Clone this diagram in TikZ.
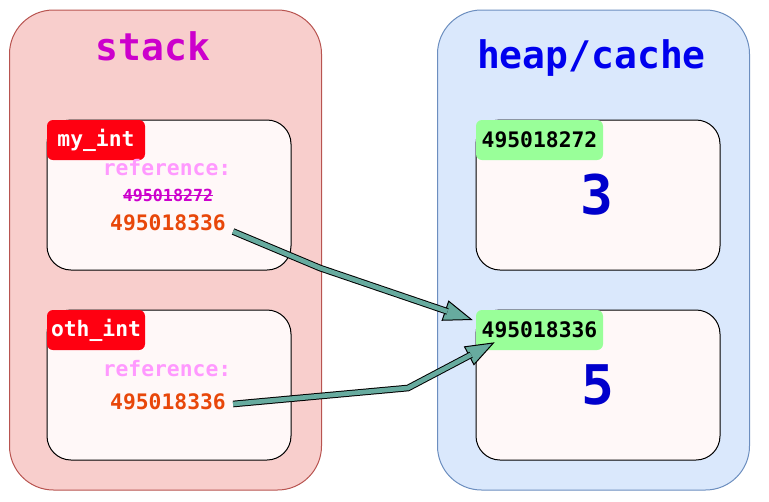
\documentclass[tikz,border=0pt]{standalone}
\usepackage{fontspec}
\setmonofont{DejaVu Sans Mono}
\usetikzlibrary{arrows.meta, calc}
\definecolor{stackfill}{HTML}{F8CECC}
\definecolor{stackline}{HTML}{B85450}
\definecolor{heapfill}{HTML}{DAE8FC}
\definecolor{heapline}{HTML}{6C8EBF}
\definecolor{cellfill}{HTML}{FFF8F8}
\definecolor{tagred}{HTML}{FF0011}
\definecolor{taggreen}{HTML}{99FF99}
\definecolor{stacktext}{HTML}{CC00CC}
\definecolor{heaptext}{HTML}{0000EE}
\definecolor{refpink}{HTML}{FF99FF}
\definecolor{valorange}{HTML}{E8470A}
\definecolor{numblue}{HTML}{0000CC}
\definecolor{arrowteal}{HTML}{67AB9F}

\begin{document}
\begin{tikzpicture}[x=0.75pt, y=-0.75pt,
    region/.style={draw, line width=0.75pt, rounded corners=33pt, minimum width=234pt, minimum height=360pt},
    cell/.style={draw=black, fill=cellfill, line width=0.75pt, rounded corners=18pt, minimum width=183pt, minimum height=112.5pt},
    tag/.style={rounded corners=4.5pt, minimum height=30pt, inner sep=0pt, font=\ttfamily\bfseries\fontsize{16}{18}\selectfont},
    txt/.style={anchor=base, inner sep=0pt, font=\ttfamily\bfseries\fontsize{16}{18}\selectfont},
    title/.style={anchor=base, inner sep=0pt, font=\ttfamily\bfseries\fontsize{28.5}{30}\selectfont},
    bignum/.style={anchor=base, inner sep=0pt, text=numblue, font=\ttfamily\bfseries\fontsize{41}{44}\selectfont},
    flexbody/.style={draw=black, line width=0.75pt, double=arrowteal, double distance=3.5pt, shorten >=20pt},
    flexhead/.style={draw=black, line width=0.75pt, -{Triangle[length=22pt, width=16pt, fill=arrowteal]}}]
    \useasboundingbox (0,0) rectangle (769,501);

    % Draw regions
    \node[region, draw=stackline, fill=stackfill] (stack) at (165.5,250) {};
    \node[region, draw=heapline, fill=heapfill] (heap) at (593.5,250) {};
    \node[title, text=stacktext] (stacktitle) at (153,60) {stack};
    \node[title, text=heaptext] (heaptitle) at (591.5,68) {heap/cache};

    % Draw cells
    \node[cell] (mycell) at (169,195) {};
    \node[cell] (othcell) at (169,385) {};
    \node[cell] (cellA) at (598,195) {};
    \node[cell] (cellB) at (598,385) {};

    % Tags
    \node[tag, fill=tagred, text=white, minimum width=73.5pt] (mytag) at (96,140) {my\_int};
    \node[tag, fill=tagred, text=white, minimum width=73.5pt] (othtag) at (96,330) {oth\_int};
    \node[tag, fill=taggreen, text=black, minimum width=95.25pt] (tagA) at (539.5,140) {495018272};
    \node[tag, fill=taggreen, text=black, minimum width=95.25pt] (tagB) at (539.5,330) {495018336};

    % Stack contents
    \node[txt, text=refpink] (myref) at (167,175) {reference:};
    \node[txt, text=stacktext, font=\ttfamily\bfseries\fontsize{12.5}{14}\selectfont] (myold) at (168,201.5) {495018272};
    \draw[stacktext, line width=1.1pt] (myold.west) -- (myold.east);
    \node[txt, text=valorange] (myval) at (168,230.5) {495018336};
    \node[txt, text=refpink] (othref) at (167,376.5) {reference:};
    \node[txt, text=valorange] (othval) at (168,409) {495018336};

    % Heap contents
    \node[bignum] (numA) at (597,214) {3};
    \node[bignum] (numB) at (598,404) {5};

    % Draw connections
    \coordinate (startA) at ($(myval.base east)+(7,1)$);
    \coordinate (bendA) at (320,268);
    \coordinate (endA) at ($(tagB.west)+(-3,-10)$);
    \coordinate (startB) at ($(othval.base east)+(7,-5)$);
    \coordinate (bendB) at (408,388);
    \coordinate (endB) at ($(tagB.south west)+(19,-8)$);
    \draw[flexhead] (bendA) -- (endA);
    \draw[flexbody] (startA) -- (bendA) -- (endA);
    \draw[flexhead] (bendB) -- (endB);
    \draw[flexbody] (startB) -- (bendB) -- (endB);
\end{tikzpicture}
\end{document}
